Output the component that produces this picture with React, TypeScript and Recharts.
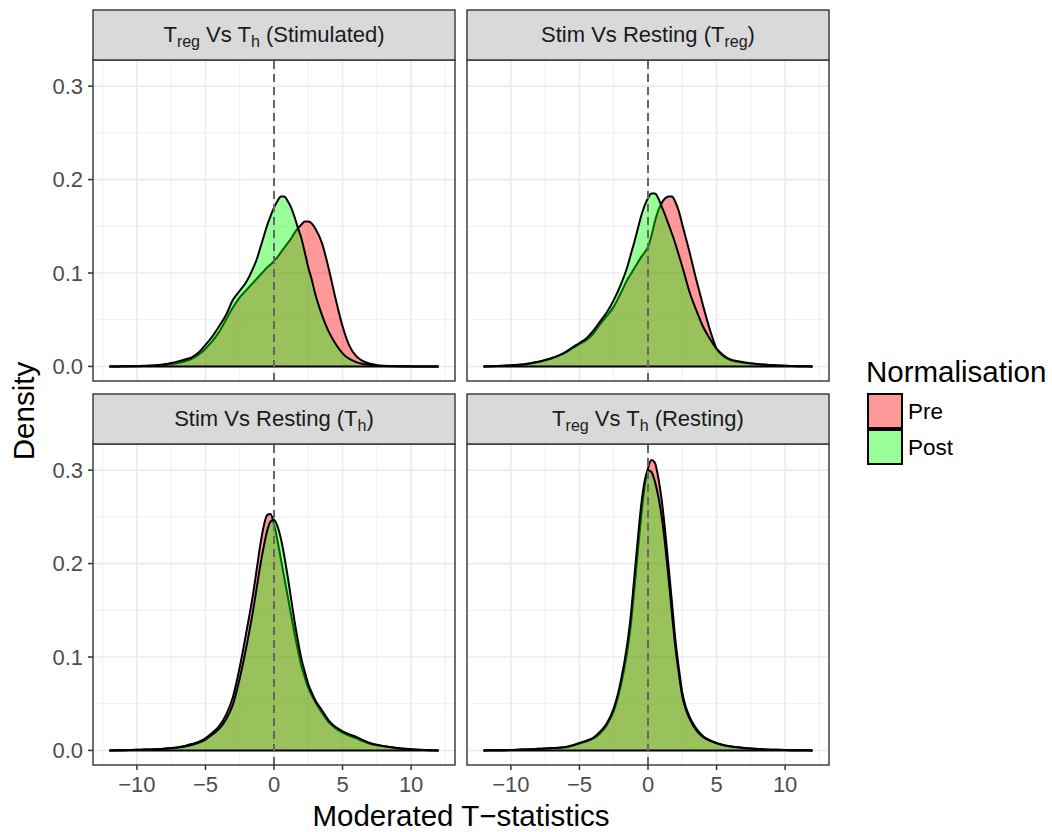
import { Area, AreaChart, CartesianGrid, ReferenceLine, XAxis, YAxis } from "recharts";

const FONT = "'Liberation Sans', Arial, Helvetica, sans-serif";

// shared grid of moderated t-statistic values (finer around the peaks)
const T = [
  -12, -11.5, -11, -10.5, -10, -9.5, -9, -8.5, -8, -7.5, -7, -6.5, -6, -5.5, -5, -4.5, -4, -3.5, -3, -2.5, -2, -1.5,
  -1.25, -1, -0.75, -0.5, -0.25, 0, 0.25, 0.5, 0.75, 1, 1.25, 1.5, 1.75, 2, 2.25, 2.5, 2.75, 3,
  3.5, 4, 4.5, 5, 5.5, 6, 6.5, 7, 7.5, 8, 8.5, 9, 9.5, 10, 10.5, 11, 11.5, 12,
];

// Treg vs Th (Stimulated)
const STIM_TREG_TH_PRE = [
  0, 0, 0.0001, 0.0001, 0.0002, 0.0004, 0.0006, 0.001, 0.0015, 0.0024, 0.0036, 0.0055, 0.0082, 0.0125, 0.019, 0.027, 0.037, 0.05, 0.063, 0.074, 0.082, 0.09,
  0.094, 0.098, 0.102, 0.106, 0.109, 0.113, 0.117, 0.122, 0.127, 0.132, 0.137, 0.143, 0.148, 0.152, 0.155, 0.155, 0.153, 0.148,
  0.132, 0.104, 0.072, 0.043, 0.022, 0.011, 0.0057, 0.0028, 0.0014, 0.0007, 0.0004, 0.0002, 0.0001, 0.0001, 0, 0, 0, 0,
];
const STIM_TREG_TH_POST = [
  0, 0, 0.0001, 0.0002, 0.0004, 0.0006, 0.001, 0.0015, 0.0024, 0.0037, 0.0054, 0.0074, 0.0098, 0.015, 0.023, 0.032, 0.043, 0.055, 0.071, 0.081, 0.091, 0.106,
  0.115, 0.127, 0.139, 0.151, 0.161, 0.17, 0.177, 0.182, 0.182, 0.177, 0.17, 0.16, 0.148, 0.137, 0.122, 0.106, 0.093, 0.078,
  0.055, 0.037, 0.024, 0.014, 0.008, 0.0046, 0.0026, 0.0014, 0.0008, 0.0004, 0.0002, 0.0001, 0, 0, 0, 0, 0, 0,
];

// Stim vs Resting (Treg)
const TREG_STIM_REST_PRE = [
  0, 0.0002, 0.0004, 0.0007, 0.001, 0.0016, 0.0022, 0.0034, 0.0048, 0.0066, 0.0088, 0.0115, 0.015, 0.0195, 0.024, 0.028, 0.035, 0.045, 0.054, 0.064, 0.078, 0.093,
  0.099, 0.105, 0.111, 0.117, 0.122, 0.128, 0.14, 0.155, 0.167, 0.175, 0.18, 0.182, 0.182, 0.176, 0.166, 0.152, 0.138, 0.124,
  0.094, 0.066, 0.04, 0.019, 0.011, 0.0068, 0.005, 0.004, 0.003, 0.0024, 0.0018, 0.0013, 0.0009, 0.0006, 0.0004, 0.0002, 0.0001, 0,
];
const TREG_STIM_REST_POST = [
  0, 0.0002, 0.0004, 0.0008, 0.0012, 0.0017, 0.0024, 0.0036, 0.005, 0.0068, 0.009, 0.0118, 0.0155, 0.0205, 0.025, 0.03, 0.038, 0.048, 0.058, 0.071, 0.087, 0.107,
  0.12, 0.133, 0.147, 0.161, 0.172, 0.18, 0.185, 0.185, 0.18, 0.171, 0.162, 0.152, 0.142, 0.131, 0.119, 0.107, 0.094, 0.081,
  0.061, 0.043, 0.03, 0.019, 0.012, 0.0075, 0.0057, 0.0045, 0.0035, 0.0026, 0.002, 0.0014, 0.001, 0.0007, 0.0005, 0.0003, 0.0001, 0,
];

// Stim vs Resting (Th)
const TH_STIM_REST_PRE = [
  0, 0.0001, 0.0002, 0.0004, 0.0006, 0.0009, 0.0011, 0.0014, 0.0019, 0.0026, 0.0035, 0.0048, 0.0068, 0.0092, 0.013, 0.019, 0.026, 0.038, 0.057, 0.089, 0.128, 0.17,
  0.195, 0.22, 0.24, 0.252, 0.253, 0.242, 0.225, 0.205, 0.185, 0.165, 0.145, 0.125, 0.107, 0.09, 0.078, 0.067, 0.059, 0.052,
  0.04, 0.03, 0.0235, 0.019, 0.0155, 0.013, 0.0098, 0.0072, 0.0056, 0.0044, 0.0033, 0.0024, 0.0017, 0.0011, 0.0007, 0.0004, 0.0002, 0,
];
const TH_STIM_REST_POST = [
  0, 0.0001, 0.0002, 0.0004, 0.0006, 0.0009, 0.0011, 0.0014, 0.0018, 0.0024, 0.0031, 0.0042, 0.0059, 0.0082, 0.0115, 0.017, 0.023, 0.033, 0.049, 0.077, 0.112, 0.152,
  0.175, 0.198, 0.218, 0.235, 0.245, 0.247, 0.24, 0.227, 0.208, 0.186, 0.162, 0.138, 0.117, 0.098, 0.084, 0.071, 0.062, 0.054,
  0.043, 0.032, 0.025, 0.0205, 0.0172, 0.0145, 0.011, 0.008, 0.006, 0.0046, 0.0035, 0.0025, 0.0018, 0.0012, 0.0008, 0.0004, 0.0002, 0,
];

// Treg vs Th (Resting)
const REST_TREG_TH_PRE = [
  0, 0.0001, 0.0002, 0.0003, 0.0005, 0.0007, 0.001, 0.0013, 0.0017, 0.002, 0.0024, 0.0028, 0.0035, 0.005, 0.0075, 0.0095, 0.0125, 0.018, 0.027, 0.042, 0.068, 0.107,
  0.135, 0.172, 0.212, 0.25, 0.282, 0.302, 0.311, 0.308, 0.292, 0.268, 0.235, 0.197, 0.158, 0.118, 0.088, 0.062, 0.047, 0.037,
  0.024, 0.0155, 0.011, 0.008, 0.0058, 0.0044, 0.0035, 0.0027, 0.002, 0.0015, 0.0011, 0.0008, 0.0006, 0.0004, 0.0003, 0.0002, 0.0001, 0,
];
const REST_TREG_TH_POST = [
  0, 0.0001, 0.0002, 0.0003, 0.0005, 0.0007, 0.001, 0.0013, 0.0017, 0.0021, 0.0025, 0.0029, 0.0037, 0.0055, 0.008, 0.0105, 0.0135, 0.02, 0.029, 0.045, 0.073, 0.115,
  0.145, 0.185, 0.225, 0.262, 0.288, 0.3, 0.298, 0.288, 0.272, 0.25, 0.22, 0.184, 0.146, 0.11, 0.082, 0.058, 0.044, 0.035,
  0.022, 0.0145, 0.0105, 0.0075, 0.0055, 0.0042, 0.0033, 0.0026, 0.002, 0.0015, 0.0011, 0.0008, 0.0006, 0.0004, 0.0003, 0.0002, 0.0001, 0,
];

const X_TICKS = [-10, -5, 0, 5, 10];
const X_MINOR = [-12.5, -7.5, -2.5, 2.5, 7.5, 12.5];
const Y_TICKS = [0, 0.1, 0.2, 0.3];
const Y_MINOR = [0.05, 0.15, 0.25];
const X_DOMAIN = [-13.2, 13.2];
const Y_DOMAIN = [-0.0156, 0.328];

const PW = 362;
const PH = 321;
const Y_AXIS_W = 93;
const X_AXIS_H = 40;

function rows(pre: number[], post: number[]) {
  return T.map((t, i) => ({ t, pre: pre[i], post: post[i] }));
}

function Panel({
  pre,
  post,
  left,
  top,
  showX,
  showY,
}: {
  pre: number[];
  post: number[];
  left: number;
  top: number;
  showX: boolean;
  showY: boolean;
}) {
  const w = PW + (showY ? Y_AXIS_W : 0);
  const h = PH + (showX ? X_AXIS_H : 0);
  return (
    <div style={{ position: "absolute", left: showY ? left - Y_AXIS_W : left, top }}>
      <AreaChart width={w} height={h} data={rows(pre, post)} margin={{ top: 0, right: 0, bottom: 0, left: 0 }}>
        <CartesianGrid stroke="#EBEBEB" strokeWidth={0.8} verticalValues={X_MINOR} horizontalValues={Y_MINOR} />
        <CartesianGrid stroke="#EBEBEB" strokeWidth={1.6} verticalValues={X_TICKS} horizontalValues={Y_TICKS} />
        <XAxis
          type="number"
          dataKey="t"
          domain={X_DOMAIN}
          allowDataOverflow
          ticks={X_TICKS}
          hide={!showX}
          height={X_AXIS_H}
          axisLine={false}
          tickSize={5}
          tickMargin={6}
          tickLine={{ stroke: "#333333", strokeWidth: 1.5 }}
          tick={{ fill: "#4D4D4D", fontSize: 22, fontFamily: FONT }}
          tickFormatter={(v: number) => String(v).replace("-", "\u2212")}
        />
        <YAxis
          type="number"
          domain={Y_DOMAIN}
          allowDataOverflow
          ticks={Y_TICKS}
          hide={!showY}
          width={Y_AXIS_W}
          axisLine={false}
          tickSize={5}
          tickMargin={5}
          tickLine={{ stroke: "#333333", strokeWidth: 1.5 }}
          tick={{ fill: "#4D4D4D", fontSize: 22, fontFamily: FONT }}
          tickFormatter={(v: number) => v.toFixed(1)}
        />
        <Area
          type="monotone"
          dataKey="pre"
          baseValue={0}
          stroke="#000000"
          strokeWidth={2}
          fill="#FF0000"
          fillOpacity={0.4}
          dot={false}
          activeDot={false}
          isAnimationActive={false}
        />
        <Area
          type="monotone"
          dataKey="post"
          baseValue={0}
          stroke="#000000"
          strokeWidth={2}
          fill="#00FF00"
          fillOpacity={0.4}
          dot={false}
          activeDot={false}
          isAnimationActive={false}
        />
        <ReferenceLine
          segment={[
            { x: -12, y: 0 },
            { x: 12, y: 0 },
          ]}
          stroke="#000000"
          strokeWidth={2}
        />
        <ReferenceLine x={0} stroke="#666666" strokeWidth={2} strokeDasharray="8 5" />
      </AreaChart>
    </div>
  );
}

function Strip({ x, y, children }: { x: number; y: number; children: React.ReactNode }) {
  return (
    <g>
      <rect x={x} y={y} width={PW} height={50} fill="#D9D9D9" stroke="#333333" strokeWidth={1.4} />
      <text x={x + PW / 2} y={y + 32} textAnchor="middle" fontSize={22} fill="#1A1A1A" fontFamily={FONT}>
        {children}
      </text>
    </g>
  );
}

const SUB = { fontSize: 16, dy: 5 };

export default function App() {
  const L = 93;
  const R = 467;
  const TOP = 60;
  const BOT = 444;
  return (
    <div style={{ position: "absolute", left: 0, top: 0, width: 1052, height: 832, background: "#fff", fontFamily: FONT }}>
      <Panel pre={STIM_TREG_TH_PRE} post={STIM_TREG_TH_POST} left={L} top={TOP} showX={false} showY />
      <Panel pre={TREG_STIM_REST_PRE} post={TREG_STIM_REST_POST} left={R} top={TOP} showX={false} showY={false} />
      <Panel pre={TH_STIM_REST_PRE} post={TH_STIM_REST_POST} left={L} top={BOT} showX showY />
      <Panel pre={REST_TREG_TH_PRE} post={REST_TREG_TH_POST} left={R} top={BOT} showX showY={false} />
      <svg width={1052} height={832} style={{ position: "absolute", left: 0, top: 0, pointerEvents: "none" }}>
        {[L, R].map((x) =>
          [TOP, BOT].map((y) => (
            <rect key={`${x}-${y}`} x={x} y={y} width={PW} height={PH} fill="none" stroke="#333333" strokeWidth={1.4} />
          ))
        )}
        <Strip x={L} y={TOP - 50}>
          T<tspan {...SUB}>reg</tspan>
          <tspan dy={-5}>{" Vs T"}</tspan>
          <tspan {...SUB}>h</tspan>
          <tspan dy={-5}>{" (Stimulated)"}</tspan>
        </Strip>
        <Strip x={R} y={TOP - 50}>
          {"Stim Vs Resting (T"}
          <tspan {...SUB}>reg</tspan>
          <tspan dy={-5}>)</tspan>
        </Strip>
        <Strip x={L} y={BOT - 50}>
          {"Stim Vs Resting (T"}
          <tspan {...SUB}>h</tspan>
          <tspan dy={-5}>)</tspan>
        </Strip>
        <Strip x={R} y={BOT - 50}>
          T<tspan {...SUB}>reg</tspan>
          <tspan dy={-5}>{" Vs T"}</tspan>
          <tspan {...SUB}>h</tspan>
          <tspan dy={-5}>{" (Resting)"}</tspan>
        </Strip>
        <text x={461} y={826} textAnchor="middle" fontSize={29.5} fill="#000" fontFamily={FONT}>
          Moderated T−statistics
        </text>
        <text
          x={34}
          y={411}
          transform="rotate(-90 34 411)"
          textAnchor="middle"
          fontSize={29.5}
          fill="#000"
          fontFamily={FONT}
        >
          Density
        </text>
        <text x={866} y={382} fontSize={29.5} fill="#000" fontFamily={FONT}>
          Normalisation
        </text>
        <rect x={868} y={394} width={34} height={34} fill="#FF9999" stroke="#000" strokeWidth={2} />
        <rect x={868} y={430} width={34} height={34} fill="#99FF99" stroke="#000" strokeWidth={2} />
        <text x={908} y={419} fontSize={22.5} fill="#000" fontFamily={FONT}>
          Pre
        </text>
        <text x={908} y={455} fontSize={22.5} fill="#000" fontFamily={FONT}>
          Post
        </text>
      </svg>
    </div>
  );
}
